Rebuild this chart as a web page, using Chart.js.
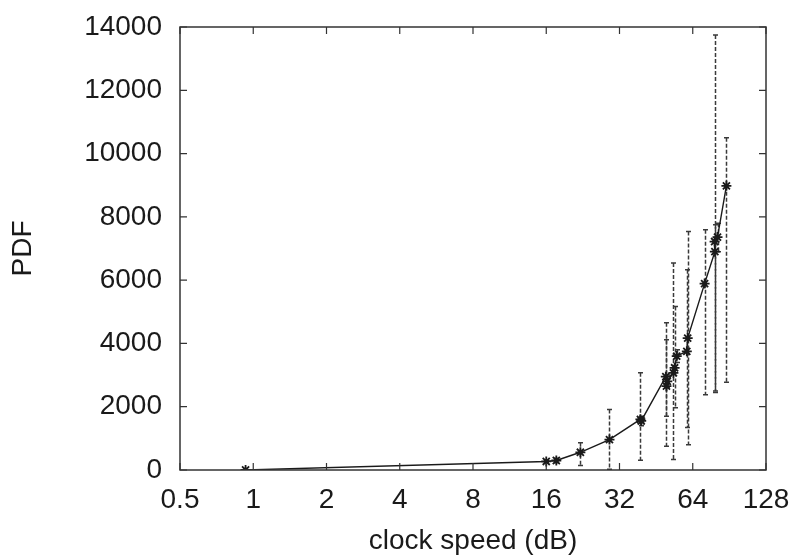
<!DOCTYPE html>
<html>
<head>
<meta charset="utf-8">
<script src="https://cdn.jsdelivr.net/npm/chart.js@4.4.1/dist/chart.umd.min.js"></script>
<style>
  html, body { margin: 0; padding: 0; background: #fff; }
</style>
</head>
<body>
<canvas id="plot" width="798" height="558"></canvas>
<script>
// clock speed (x, log2 axis) and PDF value per measured point, plus error range
const speeds = [0.93, 16, 17.6, 22.1, 29.1, 39.0, 39.3, 49.6, 49.9, 50.3, 53.3, 53.9, 55.0, 60.5, 61.0, 71.6, 78.9, 78.7, 80.9, 88.0];
const pdf    = [0,    270, 300, 560, 960, 1600, 1550, 2950, 2650, 2800, 3070, 3230, 3600, 3750, 4170, 5890, 6900, 7220, 7360, 8980];
const errLow = [0,    230, 230, 140, 20,  310,  1400, 750,  1700, 2600, 330,  1970, 3400, 1340, 800,  2380, 2500, 2450, 6900, 2770];
const errHigh= [0,    310, 370, 860, 1910, 3070, 1700, 4650, 4120, 3000, 6540, 5170, 3800, 6330, 7540, 7590, 13750, 7750, 7800, 10500];

const xTicks = [0.5, 1, 2, 4, 8, 16, 32, 64, 128];
const yTicks = [0, 2000, 4000, 6000, 8000, 10000, 12000, 14000];

const ink = '#1a1a1a';
const fontSpec = { family: '"Liberation Sans", Arial, sans-serif', size: 28 };

const errorBars = {
  id: 'errorBars',
  beforeDatasetsDraw(chart) {
    const { ctx, scales: { x, y } } = chart;
    ctx.save();
    ctx.strokeStyle = '#3a3a3a';
    ctx.lineWidth = 1.5;
    for (let i = 0; i < speeds.length; i++) {
      if (errHigh[i] - errLow[i] <= 0) continue;
      const px = Math.round(x.getPixelForValue(speeds[i])) + 0.5;
      const top = y.getPixelForValue(errHigh[i]);
      const bot = y.getPixelForValue(errLow[i]);
      ctx.setLineDash([4, 2]);
      ctx.beginPath();
      ctx.moveTo(px, top);
      ctx.lineTo(px, bot);
      ctx.stroke();
      ctx.setLineDash([]);
      ctx.beginPath();
      ctx.moveTo(px - 2.5, top); ctx.lineTo(px + 2.5, top);
      ctx.moveTo(px - 2.5, bot); ctx.lineTo(px + 2.5, bot);
      ctx.stroke();
    }
    ctx.restore();
  }
};

const frame = {
  id: 'frame',
  afterDraw(chart) {
    const { ctx, chartArea: a, scales: { x, y } } = chart;
    ctx.save();
    ctx.strokeStyle = '#333';
    ctx.lineWidth = 1.5;
    ctx.strokeRect(a.left, a.top, a.right - a.left, a.bottom - a.top);
    ctx.lineWidth = 1.2;
    ctx.beginPath();
    xTicks.forEach(v => {
      const px = x.getPixelForValue(v);
      ctx.moveTo(px, a.bottom); ctx.lineTo(px, a.bottom - 7);
      ctx.moveTo(px, a.top); ctx.lineTo(px, a.top + 7);
    });
    yTicks.forEach(v => {
      const py = y.getPixelForValue(v);
      ctx.moveTo(a.left, py); ctx.lineTo(a.left + 7, py);
      ctx.moveTo(a.right, py); ctx.lineTo(a.right - 7, py);
    });
    ctx.stroke();
    ctx.restore();
  }
};

function noEdgePadding(s) {
  s.paddingTop = 0; s.paddingBottom = 0; s.paddingLeft = 0; s.paddingRight = 0;
}

new Chart(document.getElementById('plot'), {
  type: 'scatter',
  data: {
    datasets: [{
      data: speeds.map((s, i) => ({ x: s, y: pdf[i] })),
      showLine: true,
      borderColor: ink,
      borderWidth: 1.4,
      pointStyle: 'star',
      pointRadius: 5,
      pointBorderWidth: 1.8,
      pointBorderColor: ink,
      pointBackgroundColor: ink
    }]
  },
  options: {
    responsive: false,
    animation: false,
    devicePixelRatio: 1,
    layout: { padding: { top: 27, right: 32, left: 0, bottom: 0 } },
    plugins: { legend: { display: false }, tooltip: { enabled: false } },
    scales: {
      x: {
        type: 'logarithmic',
        min: 0.5,
        max: 128,
        afterBuildTicks: s => { s.ticks = xTicks.map(v => ({ value: v })); },
        afterFit: s => { s.height = 88; noEdgePadding(s); },
        grid: { display: false, drawTicks: false },
        border: { display: false },
        ticks: { color: ink, font: fontSpec, padding: 13, maxRotation: 0, autoSkip: false, callback: v => String(v) },
        title: { display: true, text: 'clock speed (dB)', color: ink, font: fontSpec, padding: { top: 0, bottom: 0 } }
      },
      y: {
        min: 0,
        max: 14000,
        afterBuildTicks: s => { s.ticks = yTicks.map(v => ({ value: v })); },
        afterFit: s => { s.width = 180; noEdgePadding(s); },
        grid: { display: false, drawTicks: false },
        border: { display: false },
        ticks: { color: ink, font: fontSpec, padding: 18, callback: v => String(v) },
        title: { display: true, text: 'PDF', color: ink, font: fontSpec, padding: { top: 6, bottom: 0 } }
      }
    }
  },
  plugins: [errorBars, frame]
});
</script>
</body>
</html>
